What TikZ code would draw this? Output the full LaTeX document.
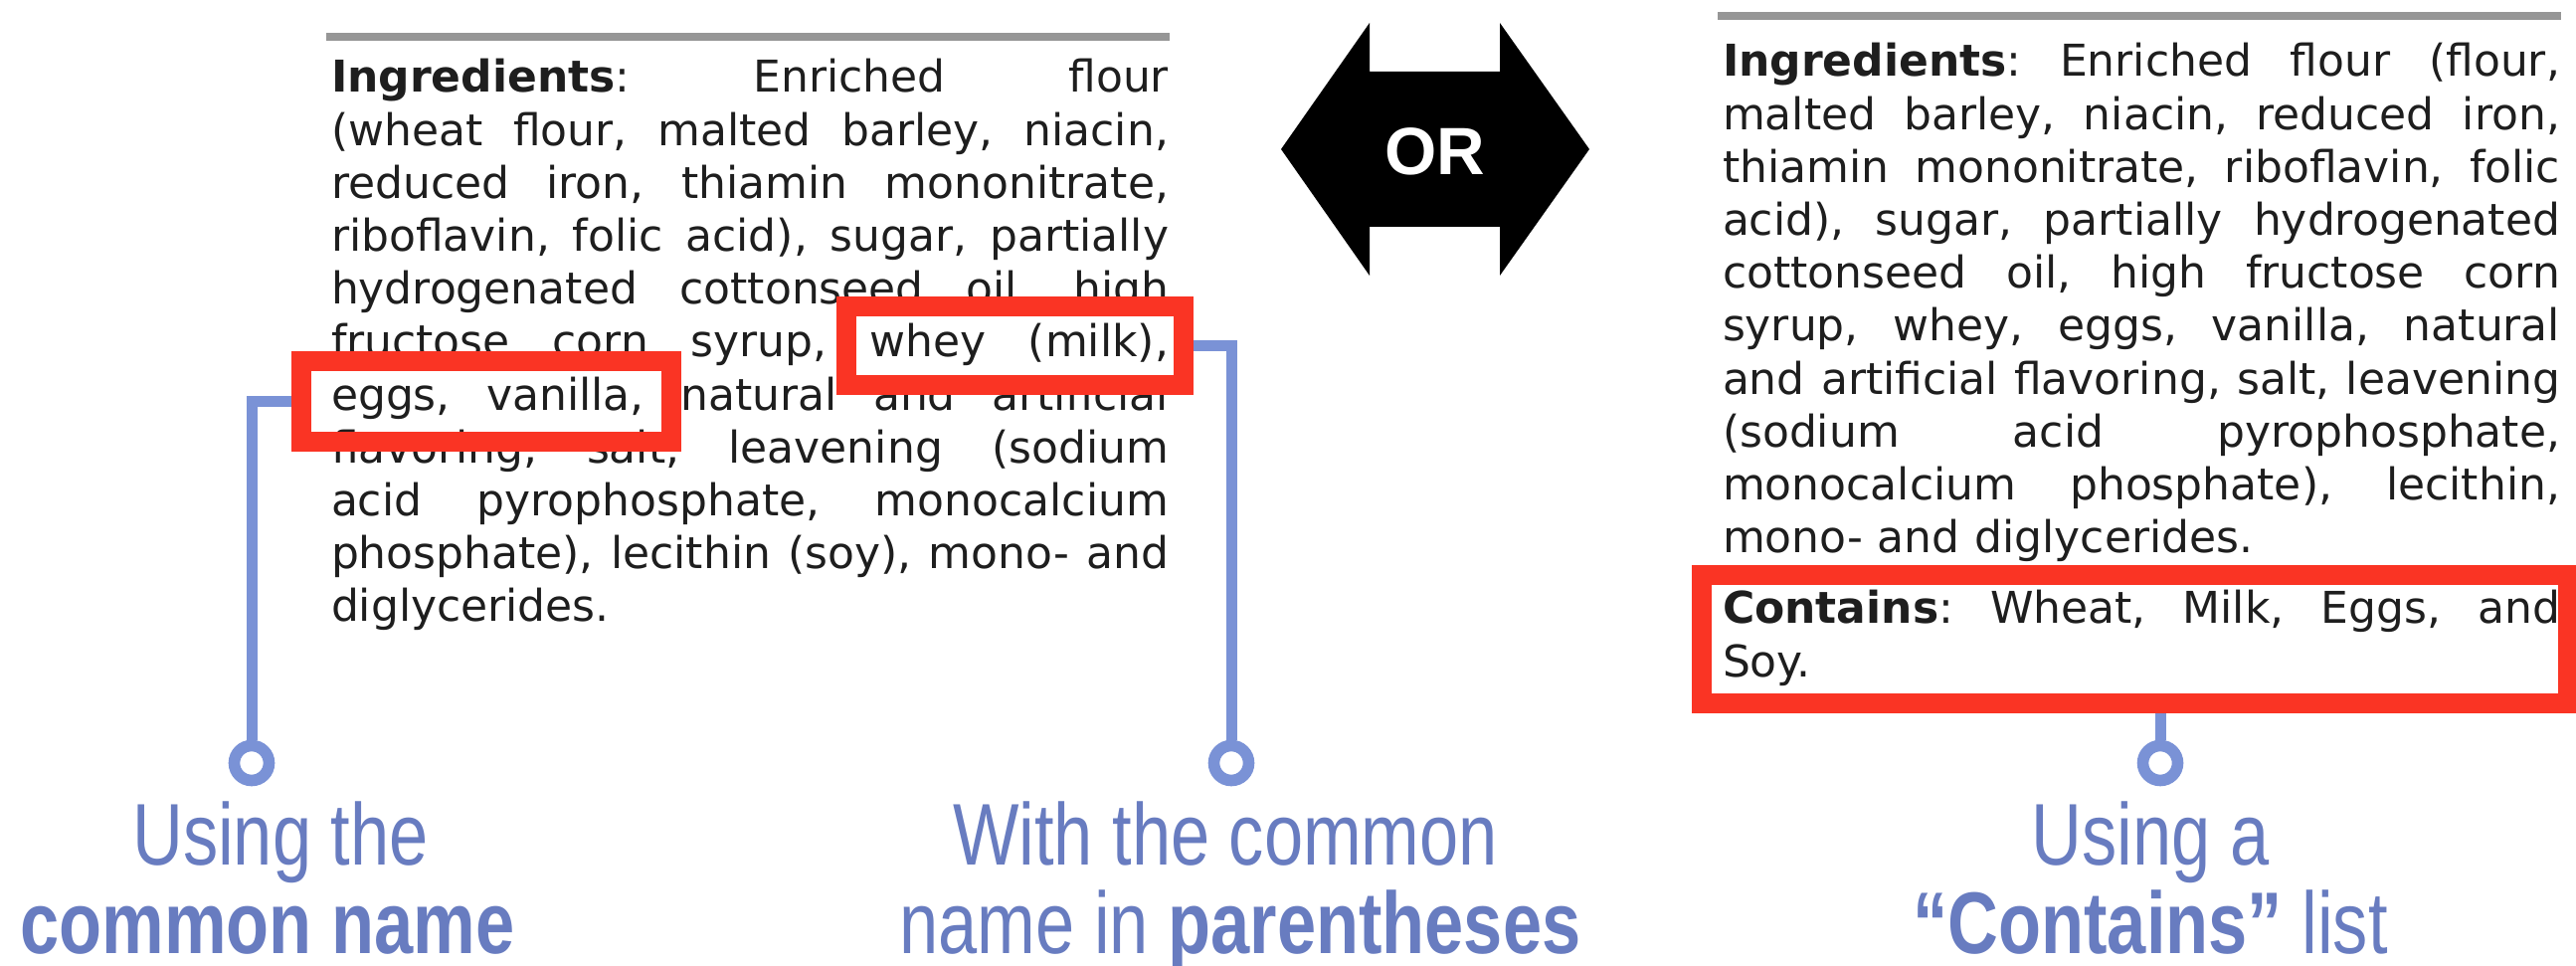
\documentclass[tikz,border=0pt]{standalone}
\usepackage{fontspec}
\setmainfont{DejaVu Sans}
\newfontfamily\labfont[FakeStretch=0.8]{Liberation Sans}
\newfontfamily\orfont{Liberation Sans}
\definecolor{redbox}{RGB}{250,52,36}
\definecolor{connblue}{RGB}{122,146,214}
\definecolor{labblue}{RGB}{104,124,192}
\definecolor{bodytxt}{RGB}{30,30,30}
\definecolor{rulegray}{RGB}{150,150,150}
\newlength\colw
\setlength\colw{210.5pt}
\newcommand\jl[1]{\hbox to \colw{\frenchspacing\spaceskip=0.32em plus 1fil minus 0.1em\relax\xspaceskip=\spaceskip #1}}
\begin{document}
\begin{tikzpicture}[x=0.25pt,y=-0.25pt,
  body/.style={inner sep=0pt, outer sep=0pt, anchor=base west, text width=\colw,
    font=\fontsize{11}{13.3}\selectfont, text=bodytxt},
  hl/.style={rectangle, draw=redbox, line width=5pt, inner sep=0pt},
  pin/.style={circle, draw=connblue, line width=2.9pt, fill=white, minimum size=8.75pt, inner sep=0pt},
  connector/.style={draw=connblue, line width=2.75pt},
  lab/.style={inner sep=0pt, anchor=base, text=labblue, font=\labfont\fontsize{22}{22}\selectfont},
  toprule/.style={draw=rulegray, line width=2.1pt}
]
\fill[white] (0,0) rectangle (2590,971);
\useasboundingbox (0,0) rectangle (2590,971);

% top rules
\draw[toprule] (328,37) -- (1176,37);
\draw[toprule] (1727,16) -- (2575,16);

% left ingredient list
\node[body] (leftlist) at (333,93) {\jl{\textbf{Ingredients}: Enriched flour}
\jl{(wheat flour, malted barley, niacin,}
\jl{reduced iron, thiamin mononitrate,}
\jl{riboflavin, folic acid), sugar, partially}
\jl{hydrogenated cottonseed oil, high}
\jl{fructose corn syrup, whey (milk),}
\jl{eggs, vanilla, natural and artificial}
\jl{flavoring, salt, leavening (sodium}
\jl{acid pyrophosphate, monocalcium}
\jl{phosphate), lecithin (soy), mono- and}
\hbox{diglycerides.}};

% right ingredient list
\node[body] (rightlist) at (1732,77) {\jl{\textbf{Ingredients}: Enriched flour (flour,}
\jl{malted barley, niacin, reduced iron,}
\jl{thiamin mononitrate, riboflavin, folic}
\jl{acid), sugar, partially hydrogenated}
\jl{cottonseed oil, high fructose corn}
\jl{syrup, whey, eggs, vanilla, natural}
\jl{and artificial flavoring, salt, leavening}
\jl{(sodium acid pyrophosphate,}
\jl{monocalcium phosphate), lecithin,}
\hbox{mono- and diglycerides.}};
\node[body] (containslist) at (1732,627) {\jl{\textbf{Contains}: Wheat, Milk, Eggs, and}
\hbox{Soy.}};

% red highlight boxes
\node[hl, minimum width=93pt, minimum height=20.25pt] (eggsbox) at (489,403.5) {};
\node[hl, minimum width=84.75pt, minimum height=19.75pt] (wheybox) at (1020.5,347.5) {};
\node[hl, minimum width=217.75pt, minimum height=32.25pt] (containsbox) at (2146.5,642.5) {};

% OR double arrow
\fill[black] (1288,150) -- (1377,23) -- (1377,72) -- (1508,72) -- (1508,23) -- (1598,150)
  -- (1508,277) -- (1508,228) -- (1377,228) -- (1377,277) -- cycle;
\node[text=white, inner sep=0pt, font=\orfont\bfseries\fontsize{16.8}{16.8}\selectfont] (ortext) at (1443,152) {OR};

% pins
\node[pin] (pinA) at (253,767) {};
\node[pin] (pinB) at (1238,767) {};
\node[pin] (pinC) at (2172,767) {};

% connectors
\draw[connector] (eggsbox.west) -| (pinA);
\draw[connector] (wheybox.east) -| (pinB);
\draw[connector] (pinC |- containsbox.south) -- (pinC);

% labels
\node[lab] (labAa) at (282,870) {Using the};
\node[lab] (labAb) at (269,958) {\bfseries common name};
\node[lab] (labBa) at (1232,870) {With the common};
\node[lab] (labBb) at (1247,958) {name in \textbf{parentheses}};
\node[lab] (labCa) at (2162,870) {Using a};
\node[lab] (labCb) at (2162,958) {\textbf{“Contains”} list};
\end{tikzpicture}
\end{document}
